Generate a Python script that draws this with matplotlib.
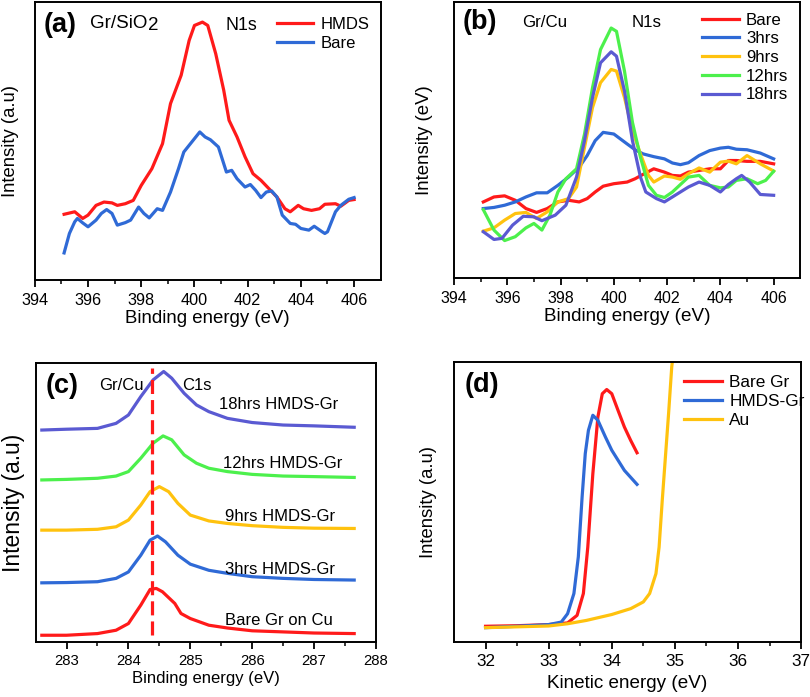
import matplotlib
matplotlib.use("Agg")
import matplotlib.pyplot as plt

plt.rcParams['font.family'] = ['Liberation Sans', 'DejaVu Sans']

# ---------------- Panel (a) data ----------------
a_hmds_x = [395.1, 395.5, 395.8, 396.0, 396.3, 396.6, 396.9, 397.1, 397.4, 397.7, 398.0, 398.4,
            398.8, 399.1, 399.5, 399.8, 400.0, 400.3, 400.5, 400.8, 401.1, 401.3, 401.6, 401.9,
            402.2, 402.5, 402.8, 403.1, 403.4, 403.6, 403.9, 404.1, 404.4, 404.7, 404.9, 405.3,
            405.5, 405.8, 406.0]
a_hmds_y = [23.7, 24.6, 22.2, 23.4, 26.9, 28.1, 27.8, 26.9, 27.5, 28.7, 34.1, 40.1,
            49.1, 63.5, 73.7, 86.2, 91.6, 92.8, 91.6, 81.4, 68.3, 57.5, 51.5, 44.4,
            38.3, 35.9, 32.9, 29.9, 25.7, 24.6, 26.9, 25.7, 25.1, 25.7, 27.3, 27.5,
            26.6, 28.7, 29.0]
a_bare_x = [395.1, 395.3, 395.5, 395.6, 395.8, 396.0, 396.3, 396.5, 396.7, 396.9, 397.1, 397.4,
            397.6, 397.9, 398.1, 398.3, 398.6, 398.8, 399.1, 399.4, 399.6, 399.9, 400.2, 400.4,
            400.6, 400.9, 401.1, 401.2, 401.4, 401.6, 401.9, 402.1, 402.3, 402.5, 402.7, 402.9,
            403.1, 403.3, 403.6, 403.8, 404.0, 404.3, 404.5, 404.8, 404.9, 405.0, 405.3, 405.5,
            405.8, 406.0]
a_bare_y = [9.8, 16.8, 21.0, 22.2, 20.6, 19.2, 21.6, 24.0, 25.4, 24.0, 19.8, 20.7,
            21.6, 26.3, 24.0, 22.4, 25.7, 25.1, 31.7, 40.1, 46.1, 49.7, 53.3, 51.5,
            50.5, 47.9, 41.9, 38.9, 39.5, 36.5, 33.5, 34.4, 32.3, 29.7, 31.7, 32.1,
            29.9, 23.4, 20.4, 20.1, 18.6, 18.0, 19.4, 17.4, 16.8, 17.4, 24.6, 26.9,
            29.1, 29.7]

# ---------------- Panel (b) data ----------------
b_x = [395.1, 395.5, 395.9, 396.3, 396.7, 397.1, 397.5, 397.9, 398.3, 398.7, 399.0, 399.3,
       399.6, 400.0, 400.5, 400.8, 401.1, 401.5, 401.9, 402.2, 402.5, 402.8, 403.2, 403.6,
       404.0, 404.3, 404.6, 405.0, 405.5, 406.0]
b_bare_y = [27.6, 29.4, 29.8, 28.2, 25.2, 23.8, 25.2, 27.6, 28.2, 27.6, 28.8, 31.2,
            33.3, 34.2, 34.8, 36.0, 37.6, 39.6, 38.4, 37.2, 37.0, 38.4, 39.0, 39.6,
            39.6, 42.6, 42.6, 42.3, 42.3, 41.4]
b_3h_y = [25.2, 25.6, 26.4, 27.6, 29.4, 30.9, 30.9, 33.6, 36.6, 40.2, 44.4, 49.8,
          52.8, 52.2, 48.6, 46.5, 45.0, 44.0, 43.2, 41.7, 41.1, 41.8, 44.4, 46.2,
          47.1, 47.4, 46.7, 46.5, 45.3, 43.2]
b_9h_x = [395.1, 395.5, 395.9, 396.3, 396.7, 397.1, 397.5, 397.9, 398.3, 398.6, 398.9, 399.2,
          399.5, 399.9, 400.1, 400.4, 400.7, 401.0, 401.3, 401.5, 401.9, 402.2, 402.5, 402.8,
          403.2, 403.6, 404.0, 404.3, 404.6, 405.0, 405.5, 406.0]
b_9h_y = [17.0, 18.2, 21.0, 23.4, 23.8, 21.6, 24.0, 27.6, 28.8, 33.0, 47.4, 61.8,
          70.8, 75.6, 75.0, 65.4, 53.4, 45.0, 37.2, 34.8, 37.0, 36.6, 35.8, 37.8,
          39.9, 38.4, 42.0, 42.4, 41.4, 44.4, 41.4, 38.8]
b_12h_x = [395.1, 395.5, 395.9, 396.3, 396.7, 397.0, 397.3, 397.6, 397.9, 398.2, 398.6, 398.9,
           399.2, 399.5, 399.9, 400.1, 400.4, 400.7, 401.0, 401.3, 401.6, 401.9, 402.2, 402.5,
           402.8, 403.2, 403.6, 404.0, 404.3, 404.6, 405.0, 405.4, 405.7, 406.0]
b_12h_y = [24.8, 17.4, 13.6, 15.0, 18.2, 19.8, 17.4, 22.8, 31.2, 36.0, 39.6, 52.2,
           69.0, 82.8, 90.6, 89.4, 75.0, 56.4, 43.8, 33.6, 30.0, 29.2, 31.2, 33.9,
           36.6, 37.2, 33.6, 32.7, 33.0, 35.4, 36.0, 34.2, 35.4, 38.7]
b_18h_x = [395.1, 395.5, 395.8, 396.2, 396.6, 397.0, 397.3, 397.8, 398.2, 398.6, 398.9, 399.2,
           399.5, 399.9, 400.1, 400.4, 400.7, 401.0, 401.2, 401.6, 401.9, 402.2, 402.5, 402.8,
           403.2, 403.6, 404.0, 404.3, 404.6, 404.8, 405.1, 405.5, 406.0]
b_18h_y = [16.8, 14.0, 14.4, 19.2, 22.4, 22.2, 20.8, 22.8, 26.4, 36.6, 49.8, 65.4,
           78.0, 82.0, 80.4, 67.8, 49.8, 36.6, 31.2, 28.8, 27.6, 29.4, 31.2, 33.0,
           34.8, 33.6, 31.2, 33.9, 36.0, 37.2, 34.8, 30.3, 30.0]

# ---------------- Panel (c) data ----------------
c_bare_x = [282.6, 283.0, 283.5, 283.8, 284.0, 284.2, 284.35, 284.45, 284.55, 284.75, 284.85,
            285.0, 285.3, 285.6, 286.0, 286.5, 287.0, 287.65]
c_bare_y = [2.4, 2.4, 3.0, 4.2, 6.6, 13.2, 18.8, 19.2, 18.0, 13.8, 10.2,
            8.4, 6.0, 5.0, 4.0, 3.6, 3.2, 3.0]
c_3h_x = [282.6, 283.0, 283.5, 283.8, 284.0, 284.2, 284.35, 284.47, 284.6, 284.8, 285.0,
          285.3, 285.6, 286.0, 286.5, 287.0, 287.65]
c_3h_y = [21.2, 21.3, 21.6, 22.8, 25.1, 31.1, 36.5, 38.0, 35.9, 31.1, 27.9,
          25.7, 24.6, 23.4, 22.8, 22.4, 22.2]
c_9h_x = [282.6, 283.0, 283.5, 283.8, 284.0, 284.2, 284.35, 284.5, 284.65, 284.8, 285.0,
          285.3, 285.6, 286.0, 286.5, 287.0, 287.65]
c_9h_y = [40.1, 40.1, 40.4, 41.3, 43.7, 49.1, 53.9, 55.7, 53.9, 49.7, 45.5,
          43.4, 42.5, 41.7, 41.1, 40.8, 40.7]
c_12h_x = [282.6, 283.0, 283.5, 283.8, 284.0, 284.2, 284.4, 284.56, 284.7, 284.9, 285.1,
           285.3, 285.6, 286.0, 286.5, 287.0, 287.65]
c_12h_y = [58.1, 58.3, 58.7, 59.5, 61.1, 65.9, 71.3, 73.9, 72.5, 67.1, 64.1,
           62.3, 61.1, 60.1, 59.5, 59.3, 59.0]
c_18h_x = [282.6, 283.0, 283.5, 283.8, 284.0, 284.2, 284.4, 284.57, 284.7, 284.9, 285.1,
           285.3, 285.6, 286.0, 286.5, 287.0, 287.65]
c_18h_y = [76.0, 76.3, 76.6, 78.4, 81.4, 88.0, 94.0, 97.0, 94.6, 89.2, 85.0,
           82.6, 80.2, 78.7, 77.8, 77.5, 77.0]
c_labels = ["Bare Gr on Cu", "3hrs HMDS-Gr", "9hrs HMDS-Gr", "12hrs HMDS-Gr", "18hrs HMDS-Gr"]
c_ref_energy = 284.38

# ---------------- Panel (d) data ----------------
d_bare_x = [32.0, 32.5, 33.0, 33.3, 33.45, 33.55, 33.62, 33.7, 33.78, 33.85, 33.92, 34.0,
            34.1, 34.2, 34.3, 34.4]
d_bare_y = [5.6, 5.8, 6.2, 6.8, 9.5, 17.3, 33.9, 60.1, 80.4, 88.7, 90.2, 88.7,
            82.7, 76.8, 72.0, 67.6]
d_hmds_x = [32.0, 32.5, 33.0, 33.2, 33.3, 33.4, 33.47, 33.53, 33.58, 33.63, 33.7, 33.78,
            33.9, 34.0, 34.2, 34.4]
d_hmds_y = [5.1, 5.6, 6.2, 7.1, 10.1, 17.3, 30.4, 51.8, 67.3, 75.6, 81.0, 79.2,
            73.2, 68.5, 61.3, 56.3]
d_au_x = [32.0, 32.5, 33.0, 33.3, 33.6, 34.0, 34.3, 34.5, 34.6, 34.7, 34.75, 34.8,
          34.85, 34.9, 34.95, 34.98]
d_au_y = [5.1, 5.4, 5.7, 6.5, 7.7, 9.8, 11.9, 14.3, 17.3, 24.4, 33.9, 50.6,
          66.1, 81.5, 98.2, 104.0]

RED = '#ff1a1a'
BLUE = '#2f6ad6'
ORANGE = '#ffc20e'
GREEN = '#4cf04c'
PURPLE = '#5a5ad2'
LW = 2.3

fig = plt.figure(figsize=(8.1, 6.97), dpi=100)

def style(ax, xlim, major, minor, xlabel, ylabel, fs_tick, fs_lab, fs_ylab, ylabpad, xlabpad=2):
    ax.set_xlim(*xlim)
    ax.set_ylim(0, 100)
    ax.set_xticks(major)
    ax.set_xticks(minor, minor=True)
    ax.set_yticks([])
    ax.tick_params(axis='x', which='major', direction='out', length=5, width=1.3, labelsize=fs_tick, pad=4)
    ax.tick_params(axis='x', which='minor', direction='out', length=3, width=1.1)
    for s in ax.spines.values():
        s.set_linewidth(1.4)
    ax.set_xlabel(xlabel, fontsize=fs_lab, labelpad=xlabpad)
    ax.set_ylabel(ylabel, fontsize=fs_ylab, labelpad=ylabpad)

# (a)
axa = fig.add_axes([0.043, 0.598, 0.427, 0.399])
axa.plot(a_hmds_x, a_hmds_y, color=RED, lw=LW, label='HMDS')
axa.plot(a_bare_x, a_bare_y, color=BLUE, lw=LW, label='Bare')
style(axa, (394, 407), [394, 396, 398, 400, 402, 404, 406], [395, 397, 399, 401, 403, 405],
      'Binding energy (eV)', 'Intensity (a.u)', 11.7, 13.4, 13.3, 11.5)
axa.text(0.025, 0.965, '(a)', transform=axa.transAxes, fontsize=19.5, fontweight='bold', va='top')
t_sio = axa.text(0.16, 0.955, 'Gr/SiO', transform=axa.transAxes, fontsize=13.5, va='top')
axa.annotate('2', xy=(1.0, -0.12), xycoords=t_sio, fontsize=13.5, va='bottom', ha='left')
axa.text(0.552, 0.945, 'N1s', transform=axa.transAxes, fontsize=12.8, va='top')
axa.legend(loc='upper right', frameon=False, fontsize=12, handlelength=2.2, handletextpad=0.4,
           borderaxespad=0.3, labelspacing=0.25, bbox_to_anchor=(1.0, 0.99))

# (b)
axb = fig.add_axes([0.5605, 0.601, 0.4275, 0.396])
axb.plot(b_x, b_bare_y, color=RED, lw=LW, label='Bare')
axb.plot(b_x, b_3h_y, color=BLUE, lw=LW, label='3hrs')
axb.plot(b_9h_x, b_9h_y, color=ORANGE, lw=LW, label='9hrs')
axb.plot(b_12h_x, b_12h_y, color=GREEN, lw=LW, label='12hrs')
axb.plot(b_18h_x, b_18h_y, color=PURPLE, lw=LW, label='18hrs')
style(axb, (394, 407), [394, 396, 398, 400, 402, 404, 406], [395, 397, 399, 401, 403, 405],
      'Binding energy (eV)', 'Intensity (eV)', 11.5, 13.6, 13.4, 15)
axb.text(0.025, 0.975, '(b)', transform=axb.transAxes, fontsize=19.5, fontweight='bold', va='top')
axb.text(0.197, 0.955, 'Gr/Cu', transform=axb.transAxes, fontsize=12.2, va='top')
axb.text(0.512, 0.955, 'N1s', transform=axb.transAxes, fontsize=12.2, va='top')
axb.legend(loc='upper right', frameon=False, fontsize=12.2, handlelength=2.2, handletextpad=0.4,
           borderaxespad=0.3, labelspacing=0.22, bbox_to_anchor=(1.0, 1.005))

# (c)
axc = fig.add_axes([0.044, 0.079, 0.42, 0.400])
series_c = [(c_bare_x, c_bare_y, RED), (c_3h_x, c_3h_y, BLUE), (c_9h_x, c_9h_y, ORANGE),
            (c_12h_x, c_12h_y, GREEN), (c_18h_x, c_18h_y, PURPLE)]
for (xx, yy, col) in series_c:
    axc.plot(xx, yy, color=col, lw=LW)
axc.plot([c_ref_energy, c_ref_energy], [2.4, 98.2], color=RED, lw=2.3, ls=(0, (4.4, 1.9)))
style(axc, (282.5, 288), [283, 284, 285, 286, 287, 288], [283.5, 284.5, 285.5, 286.5, 287.5],
      'Binding energy (eV)', 'Intensity (a.u)', 10.7, 12, 16.4, 8)
label_pos = [(286.43, 7.8), (286.45, 26.0), (286.45, 45.0), (286.5, 64.0), (286.43, 85.0)]
for lab, (lx, ly) in zip(c_labels, label_pos):
    axc.text(lx, ly, lab, fontsize=12, ha='center', va='center')
axc.text(0.03, 0.965, '(c)', transform=axc.transAxes, fontsize=19.5, fontweight='bold', va='top')
axc.text(0.186, 0.945, 'Gr/Cu', transform=axc.transAxes, fontsize=12, va='top')
axc.text(0.43, 0.945, 'C1s', transform=axc.transAxes, fontsize=12, va='top')

# (d)
axd = fig.add_axes([0.5605, 0.079, 0.4285, 0.4015])
axd.plot(d_bare_x, d_bare_y, color=RED, lw=LW, label='Bare Gr')
axd.plot(d_hmds_x, d_hmds_y, color=BLUE, lw=LW, label='HMDS-Gr')
axd.plot(d_au_x, d_au_y, color=ORANGE, lw=LW, label='Au')
style(axd, (31.5, 37), [32, 33, 34, 35, 36, 37], [32.5, 33.5, 34.5, 35.5, 36.5],
      'Kinetic energy (eV)', 'Intensity (a.u)', 12.3, 13.6, 13.3, 12, xlabpad=4)
axd.text(0.03, 0.965, '(d)', transform=axd.transAxes, fontsize=19.5, fontweight='bold', va='top')
axd.legend(loc='upper right', frameon=False, fontsize=12.4, handlelength=2.2, handletextpad=0.4,
           borderaxespad=0.0, labelspacing=0.25, bbox_to_anchor=(1.03, 0.98))

fig.savefig('out.png', dpi=100)
